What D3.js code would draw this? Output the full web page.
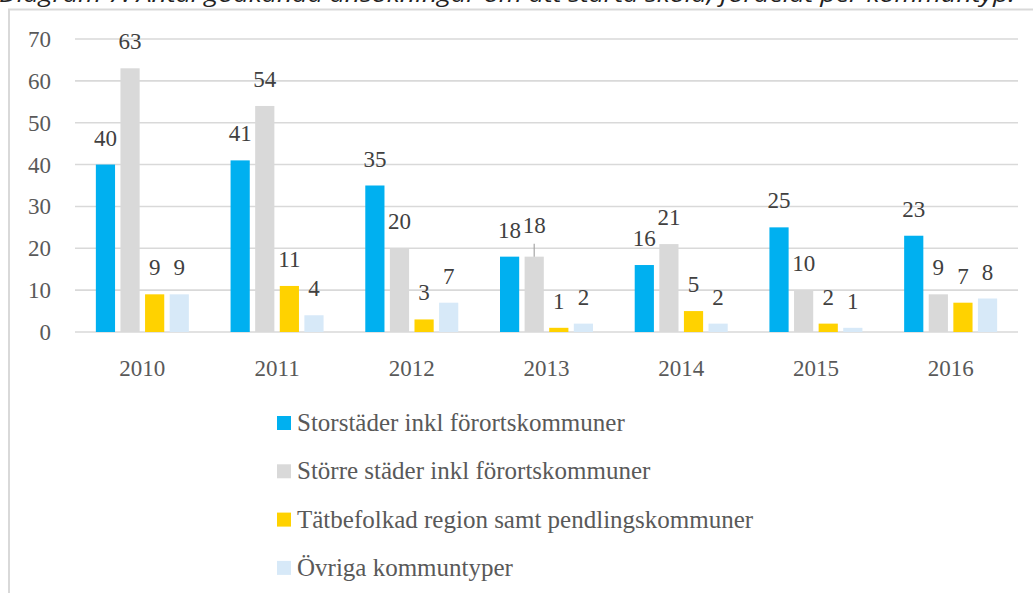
<!DOCTYPE html>
<html>
<head>
<meta charset="utf-8">
<script src="https://cdn.jsdelivr.net/npm/d3@7"></script>
<style>
  body { margin: 0; background: #fff; }
  svg { display: block; }
</style>
</head>
<body>
<svg id="chart"></svg>
<script>
// data
const years = ["2010", "2011", "2012", "2013", "2014", "2015", "2016"];
const seriesNames = [
    "Storstäder inkl förortskommuner",
    "Större städer inkl förortskommuner",
    "Tätbefolkad region samt pendlingskommuner",
    "Övriga kommuntyper"
];
const storstader = [40, 41, 35, 18, 16, 25, 23];
const storreStader = [63, 54, 20, 18, 21, 10, 9];
const tatbefolkad = [9, 11, 3, 1, 5, 2, 7];
const ovriga = [9, 4, 7, 2, 2, 1, 8];
const yTicks = [0, 10, 20, 30, 40, 50, 60, 70];
const title = "Diagram 7. Antal godkända ansökningar om att starta skola, fördelat per kommuntyp.";

const colors = ["#00b0f0", "#d9d9d9", "#ffd200", "#d7e9f8"];
const values = [storstader, storreStader, tatbefolkad, ovriga];

const width = 1033, height = 593;
const margin = { top: 39, right: 15, bottom: 261, left: 75 };
const serif = "'Liberation Serif', 'DejaVu Serif', serif";
const textColor = "#595959";

const svg = d3.select("#chart")
    .attr("width", width)
    .attr("height", height);

// title, clipped at the top of the picture
svg.append("text")
    .attr("x", -1)
    .attr("y", 2)
    .attr("font-family", "'Open Sans', 'DejaVu Sans', sans-serif")
    .attr("font-style", "italic")
    .attr("font-size", 22)
    .attr("fill", "#222")
    .attr("textLength", 1016)
    .attr("lengthAdjust", "spacingAndGlyphs")
    .text(title);

// chart frame
svg.append("rect")
    .attr("x", 9)
    .attr("y", 9.5)
    .attr("width", 1040)
    .attr("height", 600)
    .attr("fill", "none")
    .attr("stroke", "#d9d9d9")
    .attr("stroke-width", 2);

const x0 = d3.scaleBand()
    .domain(years)
    .range([margin.left, width - margin.right])
    .padding(0);

const groupPad = (x0.bandwidth() - 93) / 2;
const x1 = d3.scaleBand()
    .domain(d3.range(seriesNames.length))
    .range([groupPad, x0.bandwidth() - groupPad])
    .paddingInner(0.22);

const y = d3.scaleLinear()
    .domain([0, 70])
    .range([height - margin.bottom, margin.top]);

// gridlines
svg.append("g")
    .selectAll("line")
    .data(yTicks)
    .join("line")
    .attr("x1", margin.left)
    .attr("x2", width - margin.right)
    .attr("y1", d => y(d))
    .attr("y2", d => y(d))
    .attr("stroke", "#d9d9d9")
    .attr("stroke-width", 1.6);

// y tick labels
svg.append("g")
    .selectAll("text")
    .data(yTicks)
    .join("text")
    .attr("x", 51)
    .attr("y", d => y(d))
    .attr("dy", "0.35em")
    .attr("text-anchor", "end")
    .attr("font-family", serif)
    .attr("font-size", 23)
    .attr("fill", textColor)
    .text(d => d);

// x tick labels
svg.append("g")
    .selectAll("text")
    .data(years)
    .join("text")
    .attr("x", d => x0(d) + x0.bandwidth() / 2)
    .attr("y", 376)
    .attr("text-anchor", "middle")
    .attr("font-family", serif)
    .attr("font-size", 23)
    .attr("fill", textColor)
    .text(d => d);

// flat list of bars
const bars = [];
years.forEach((yr, i) => {
    values.forEach((s, j) => {
        bars.push({ year: yr, series: j, value: s[i] });
    });
});

svg.append("g")
    .selectAll("rect")
    .data(bars)
    .join("rect")
    .attr("x", d => x0(d.year) + x1(d.series))
    .attr("y", d => y(d.value))
    .attr("width", x1.bandwidth())
    .attr("height", d => y(0) - y(d.value))
    .attr("fill", d => colors[d.series]);

// value labels; the grey 2013 label is lifted with a leader line
const lifted = d => d.year === "2013" && d.series === 1;

svg.append("g")
    .selectAll("line")
    .data(bars.filter(lifted))
    .join("line")
    .attr("x1", d => x0(d.year) + x1(d.series) + x1.bandwidth() / 2)
    .attr("x2", d => x0(d.year) + x1(d.series) + x1.bandwidth() / 2)
    .attr("y1", d => y(d.value) - 13)
    .attr("y2", d => y(d.value))
    .attr("stroke", "#a6a6a6")
    .attr("stroke-width", 1.2);

svg.append("g")
    .selectAll("text")
    .data(bars)
    .join("text")
    .attr("x", d => x0(d.year) + x1(d.series) + x1.bandwidth() / 2)
    .attr("y", d => y(d.value) - (lifted(d) ? 24 : 19))
    .attr("text-anchor", "middle")
    .attr("font-family", serif)
    .attr("font-size", 23)
    .attr("fill", "#404040")
    .text(d => d.value);

// legend
const legend = svg.append("g")
    .selectAll("g")
    .data(seriesNames)
    .join("g")
    .attr("transform", (d, i) => `translate(277,${416 + i * 48.3})`);

legend.append("rect")
    .attr("width", 14)
    .attr("height", 14)
    .attr("fill", (d, i) => colors[i]);

legend.append("text")
    .attr("x", 20)
    .attr("y", 15)
    .attr("font-family", serif)
    .attr("font-size", 25)
    .attr("fill", textColor)
    .text(d => d);
</script>
</body>
</html>
